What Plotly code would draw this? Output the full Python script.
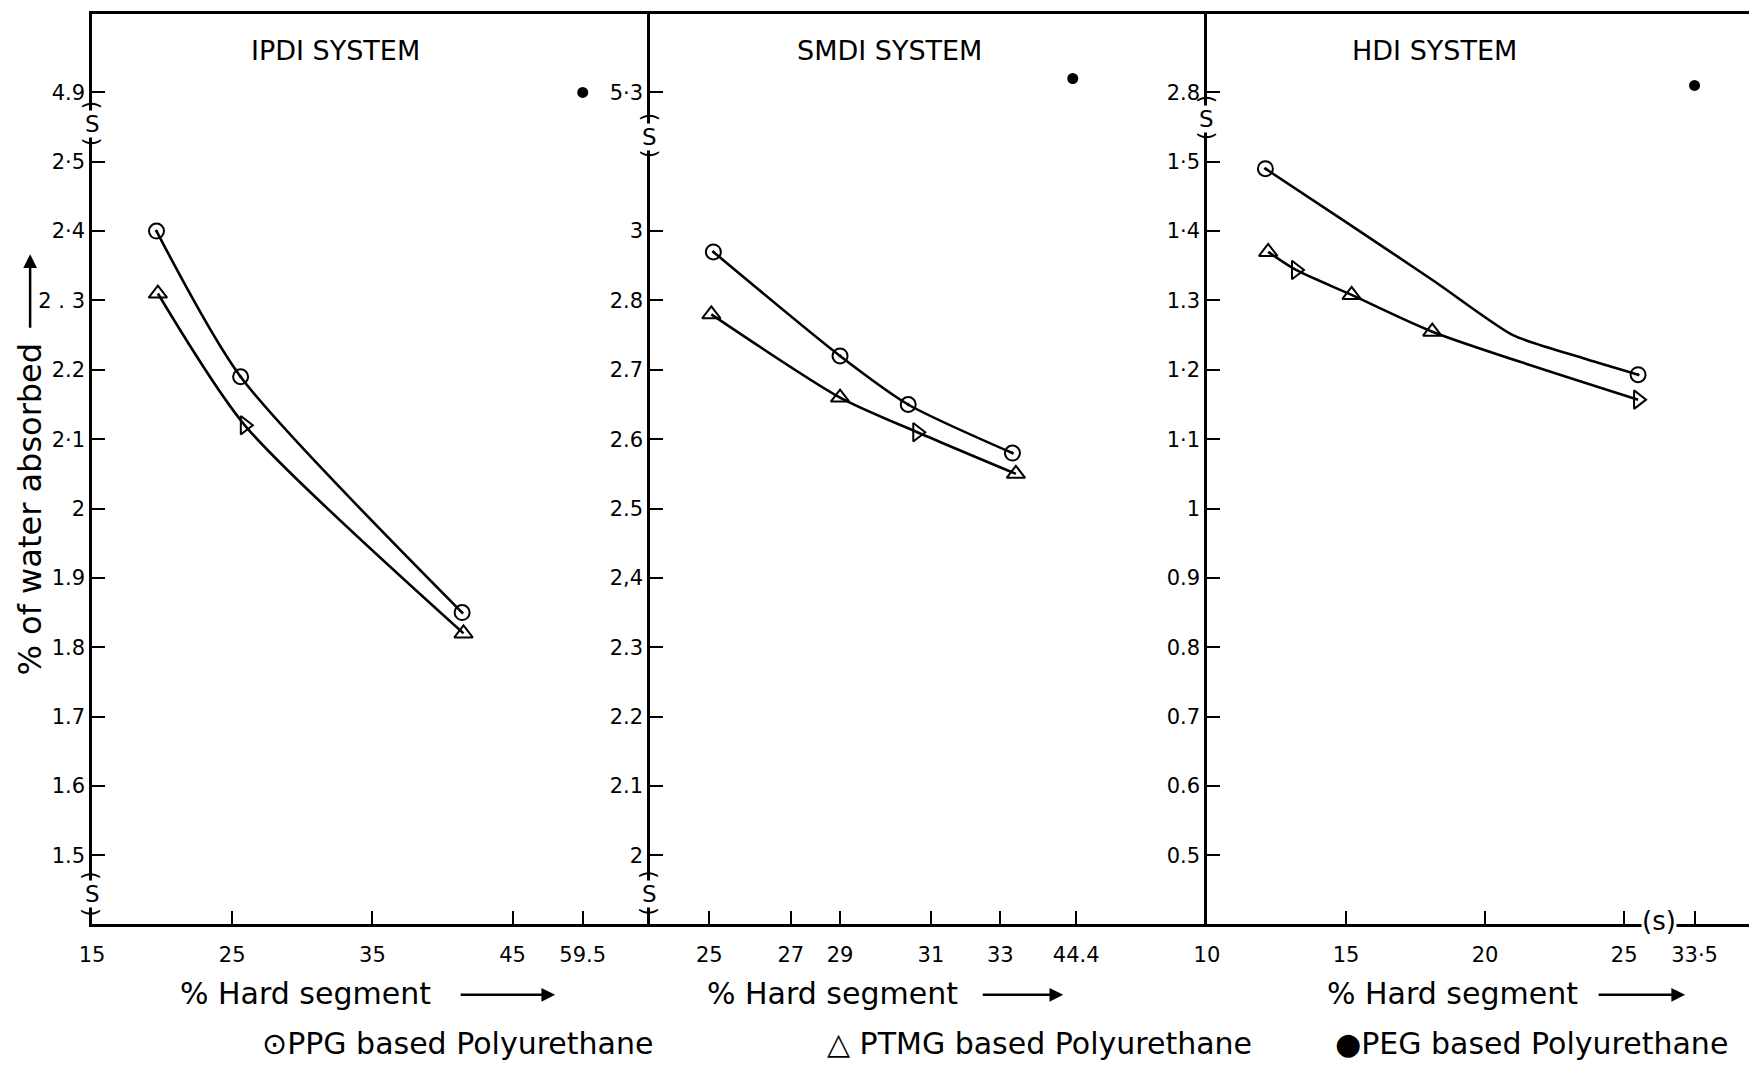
import numpy as np
import plotly.graph_objects as go

# ---------------- data ----------------
# IPDI system
ipdi_ppg_x = [19.6, 25.6, 41.4]
ipdi_ppg_y = [2.40, 2.19, 1.85]
ipdi_ptmg_x = [19.7, 25.9, 41.5]
ipdi_ptmg_y = [2.31, 2.12, 1.82]
ipdi_peg_x = [59.5]
ipdi_peg_y = [4.9]

# SMDI system
smdi_ppg_x = [25.1, 29.0, 30.5, 33.35]
smdi_ppg_y = [2.94, 2.72, 2.65, 2.58]
smdi_ptmg_x = [25.05, 29.0, 30.7, 33.45]
smdi_ptmg_y = [2.78, 2.66, 2.61, 2.55]
smdi_peg_x = [44.3]
smdi_peg_y = [5.32]

# HDI system
hdi_ppg_x = [12.1, 25.5]
hdi_ppg_y = [1.49, 1.193]
hdi_ppg_curve_x = [12.1, 15.0, 18.2, 21.0, 23.5, 25.5]
hdi_ppg_curve_y = [1.49, 1.413, 1.327, 1.25, 1.217, 1.193]
hdi_ptmg_x = [12.2, 13.2, 15.2, 18.1, 25.5]
hdi_ptmg_y = [1.37, 1.344, 1.308, 1.255, 1.157]
hdi_peg_x = [33.5]
hdi_peg_y = [2.81]

# tick labels
ipdi_x_vals = [15, 25, 35, 45, 59.5]
ipdi_x_text = ["15", "25", "35", "45", "59.5"]
ipdi_y_vals = [1.5, 1.6, 1.7, 1.8, 1.9, 2.0, 2.1, 2.2, 2.3, 2.4, 2.5, 4.9]
ipdi_y_text = ["1.5", "1.6", "1.7", "1.8", "1.9", "2", "2·1", "2.2", "2 . 3", "2·4", "2·5", "4.9"]

smdi_x_vals = [25, 27, 29, 31, 33, 44.4]
smdi_x_text = ["25", "27", "29", "31", "33", "44.4"]
smdi_y_vals = [2.0, 2.1, 2.2, 2.3, 2.4, 2.5, 2.6, 2.7, 2.8, 3.0, 5.3]
smdi_y_text = ["2", "2.1", "2.2", "2.3", "2,4", "2.5", "2.6", "2.7", "2.8", "3", "5·3"]

hdi_x_vals = [10, 15, 20, 25, 33.5]
hdi_x_text = ["10", "15", "20", "25", "33·5"]
hdi_y_vals = [0.5, 0.6, 0.7, 0.8, 0.9, 1.0, 1.1, 1.2, 1.3, 1.4, 1.5, 2.8]
hdi_y_text = ["0.5", "0.6", "0.7", "0.8", "0.9", "1", "1·1", "1·2", "1.3", "1·4", "1·5", "2.8"]

# ---------------- broken-axis scales (layout) ----------------
SCALES = {
    "ipdi_x": dict(kv=[15, 45], kp=[15, 45], bv=59.5, bp=50, slope=1.0),
    "ipdi_y": dict(kv=[1.5, 2.5], kp=[0, 10], bv=4.9, bp=11, slope=10.0),
    "smdi_x": dict(kv=[25, 27, 29, 31, 33], kp=[25, 27.35, 28.77, 31.39, 33.39],
                   bv=44.4, bp=35.58, slope=1.0),
    "smdi_y": dict(kv=[2.0, 2.8, 3.0], kp=[0, 8, 9], bv=5.3, bp=11, slope=10.0),
    "hdi_x": dict(kv=[10, 25], kp=[10, 25], bv=33.5, bp=27.53, slope=1.0),
    "hdi_y": dict(kv=[0.5, 1.5], kp=[0, 10], bv=2.8, bp=11, slope=10.0),
}


def to_pos(values, name):
    s = SCALES[name]
    kv, kp = np.array(s["kv"], float), np.array(s["kp"], float)
    v = np.asarray(values, float)
    p = np.interp(v, kv, kp)
    hi_slope = (kp[-1] - kp[-2]) / (kv[-1] - kv[-2])
    lo_slope = (kp[1] - kp[0]) / (kv[1] - kv[0])
    p = np.where(v > kv[-1], kp[-1] + (v - kv[-1]) * hi_slope, p)
    p = np.where(v < kv[0], kp[0] + (v - kv[0]) * lo_slope, p)
    brk = v > (kv[-1] + s["bv"]) / 2
    p = np.where(brk, s["bp"] + (v - s["bv"]) * s["slope"], p)
    return p


# ---------------- figure geometry ----------------
# page body has an 8px margin, so the figure is made 8px smaller
W, H = 1749, 1057
L, R, T, B = 84, 3, 3, 141
PW, PH = W - L - R, H - T - B
X0, Y0 = 92, 924   # window position of plot-area left / bottom


def pxx(X):
    return (X - X0) / PW


def pyy(Y):
    return (Y0 - Y) / PH


d1 = pxx(651)
d2 = pxx(1209)

FONT = "DejaVu Sans"
INK = "black"

fig = go.Figure()

ppg_marker = dict(symbol="circle-open-dot", size=15, color=INK, line=dict(width=2, color=INK))


def tri_marker(symbols):
    return dict(symbol=symbols, size=16, color=INK, line=dict(width=2, color=INK))


peg_marker = dict(symbol="circle", size=11, color=INK)
LINE = dict(color=INK, width=2.6, shape="spline", smoothing=0.7)

# IPDI
fig.add_trace(go.Scatter(x=to_pos(ipdi_ppg_x, "ipdi_x"), y=to_pos(ipdi_ppg_y, "ipdi_y"),
                         mode="lines+markers", line=LINE, marker=ppg_marker,
                         xaxis="x", yaxis="y", name="PPG"))
fig.add_trace(go.Scatter(x=to_pos(ipdi_ptmg_x, "ipdi_x"), y=to_pos(ipdi_ptmg_y, "ipdi_y"),
                         mode="lines+markers", line=LINE,
                         marker=tri_marker(["triangle-up-open", "triangle-right-open", "triangle-up-open"]),
                         xaxis="x", yaxis="y", name="PTMG"))
fig.add_trace(go.Scatter(x=to_pos(ipdi_peg_x, "ipdi_x"), y=to_pos(ipdi_peg_y, "ipdi_y"),
                         mode="markers", marker=peg_marker, xaxis="x", yaxis="y", name="PEG"))

# SMDI
fig.add_trace(go.Scatter(x=to_pos(smdi_ppg_x, "smdi_x"), y=to_pos(smdi_ppg_y, "smdi_y"),
                         mode="lines+markers", line=LINE, marker=ppg_marker,
                         xaxis="x2", yaxis="y2", name="PPG"))
fig.add_trace(go.Scatter(x=to_pos(smdi_ptmg_x, "smdi_x"), y=to_pos(smdi_ptmg_y, "smdi_y"),
                         mode="lines+markers", line=LINE,
                         marker=tri_marker(["triangle-up-open", "triangle-up-open",
                                            "triangle-right-open", "triangle-up-open"]),
                         xaxis="x2", yaxis="y2", name="PTMG"))
fig.add_trace(go.Scatter(x=to_pos(smdi_peg_x, "smdi_x"), y=to_pos(smdi_peg_y, "smdi_y"),
                         mode="markers", marker=peg_marker, xaxis="x2", yaxis="y2", name="PEG"))

# HDI
fig.add_trace(go.Scatter(x=to_pos(hdi_ppg_curve_x, "hdi_x"), y=to_pos(hdi_ppg_curve_y, "hdi_y"),
                         mode="lines", line=dict(color=INK, width=2.6, shape="spline", smoothing=0.6),
                         xaxis="x3", yaxis="y3", name="PPG curve", hoverinfo="skip"))
fig.add_trace(go.Scatter(x=to_pos(hdi_ppg_x, "hdi_x"), y=to_pos(hdi_ppg_y, "hdi_y"),
                         mode="markers", marker=ppg_marker, xaxis="x3", yaxis="y3", name="PPG"))
fig.add_trace(go.Scatter(x=to_pos(hdi_ptmg_x, "hdi_x"), y=to_pos(hdi_ptmg_y, "hdi_y"),
                         mode="lines+markers", line=LINE,
                         marker=tri_marker(["triangle-up-open", "triangle-right-open", "triangle-up-open",
                                            "triangle-up-open", "triangle-right-open"]),
                         xaxis="x3", yaxis="y3", name="PTMG"))
fig.add_trace(go.Scatter(x=to_pos(hdi_peg_x, "hdi_x"), y=to_pos(hdi_peg_y, "hdi_y"),
                         mode="markers", marker=peg_marker, xaxis="x3", yaxis="y3", name="PEG"))

YRANGE = [-0.99, 12.13]


def xax(domain, rng, vals, text, anchor, scale):
    return dict(domain=domain, range=rng, tickvals=list(to_pos(vals, scale)), ticktext=text,
                ticks="inside", ticklen=13, tickwidth=2, tickcolor=INK,
                showline=True, linewidth=2.5, linecolor=INK, mirror=True,
                showgrid=False, zeroline=False, anchor=anchor, ticklabelstandoff=10,
                tickfont=dict(family=FONT, size=21, color=INK), fixedrange=True)


def yax(rng, vals, text, anchor, scale, mirror):
    return dict(domain=[0, 1], range=rng, tickvals=list(to_pos(vals, scale)), ticktext=text,
                ticks="inside", ticklen=13, tickwidth=2, tickcolor=INK,
                showline=True, linewidth=2.5, linecolor=INK, mirror=mirror,
                showgrid=False, zeroline=False, anchor=anchor,
                tickfont=dict(family=FONT, size=21, color=INK), fixedrange=True)


annotations = []


def text_ann(X, Y, txt, size, angle=0, bg=None, xanchor="center"):
    a = dict(x=pxx(X), y=pyy(Y), xref="paper", yref="paper", text=txt, showarrow=False,
             font=dict(family=FONT, size=size, color=INK), textangle=angle,
             xanchor=xanchor, yanchor="middle")
    if bg:
        a["bgcolor"] = bg
        a["borderpad"] = 0
    annotations.append(a)


def arrow_ann(X_head, Y_head, dx, dy):
    annotations.append(dict(x=pxx(X_head), y=pyy(Y_head), xref="paper", yref="paper", text="",
                            showarrow=True, arrowhead=2, arrowsize=1.1, arrowwidth=2.5,
                            arrowcolor=INK, ax=dx, ay=dy))


# panel titles
text_ann(336, 48, "IPDI SYSTEM", 27)
text_ann(891, 48, "SMDI SYSTEM", 27)
text_ann(1437, 48, "HDI SYSTEM", 27)

# x-axis titles with arrows
for cx, ax_head, ax_len in [(306, 556, 96), (834, 1065, 82), (1455, 1688, 88)]:
    text_ann(cx, 994, "% Hard segment", 30)
    arrow_ann(ax_head, 995, -ax_len, 0)

# y-axis title with arrow
text_ann(30, 508, "% of water absorbed", 32, angle=-90)
arrow_ann(30, 252, 0, 75)

# legend line
text_ann(458, 1044, "⊙PPG based Polyurethane", 30)
text_ann(1041, 1044, "△ PTMG based Polyurethane", 30)
text_ann(1534, 1044, "●PEG based Polyurethane", 30)

# axis-break marks
for bx, by in [(92, 121), (92, 894), (651, 134), (651, 894), (1209, 116)]:
    text_ann(bx, by, "S", 23, bg="white")
    text_ann(bx, by - 19, "(", 22, angle=90)
    text_ann(bx, by + 18, ")", 22, angle=90)
text_ann(1662, 921, "(s)", 26, bg="white")

fig.update_layout(
    width=W, height=H,
    margin=dict(l=L, r=R, t=T, b=B),
    paper_bgcolor="white", plot_bgcolor="white",
    showlegend=False,
    font=dict(family=FONT, color=INK),
    xaxis=xax([0, d1], [15, 54.8], ipdi_x_vals, ipdi_x_text, "y", "ipdi_x"),
    yaxis=yax(YRANGE, ipdi_y_vals, ipdi_y_text, "x", "ipdi_y", False),
    xaxis2=xax([d1, d2], [23.29, 39.35], smdi_x_vals, smdi_x_text, "y2", "smdi_x"),
    yaxis2=yax(YRANGE, smdi_y_vals, smdi_y_text, "x2", "smdi_y", False),
    xaxis3=xax([d2, 1], [10, 29.56], hdi_x_vals, hdi_x_text, "y3", "hdi_x"),
    yaxis3=yax(YRANGE, hdi_y_vals, hdi_y_text, "x3", "hdi_y", True),
    annotations=annotations,
)

fig.write_html("out.html")
